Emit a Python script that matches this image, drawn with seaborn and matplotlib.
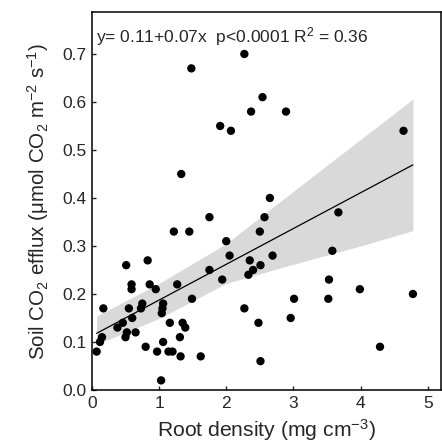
import matplotlib
matplotlib.use("Agg")
import matplotlib.pyplot as plt
import seaborn as sns
import pandas as pd

# root density (mg cm-3) vs soil CO2 efflux
root_density = [0.07, 0.12, 0.15, 0.17, 0.38, 0.46, 0.50, 0.51, 0.52, 0.55,
                0.59, 0.59, 0.60, 0.65, 0.73, 0.75, 0.80, 0.83, 0.86, 0.95,
                0.97, 1.03, 1.04, 1.05, 1.06, 1.06, 1.14, 1.16, 1.20, 1.22,
                1.27, 1.31, 1.32, 1.33, 1.35, 1.39, 1.45, 1.48, 1.49, 1.62,
                1.75, 1.75, 1.91, 1.94, 2.00, 2.05, 2.07, 2.27, 2.27, 2.33,
                2.35, 2.37, 2.40, 2.48, 2.50, 2.51, 2.51, 2.54, 2.57, 2.65,
                2.69, 2.89, 2.96, 3.01, 3.52, 3.53, 3.58, 3.67, 3.99, 4.29,
                4.64, 4.78]
co2_efflux = [0.08, 0.10, 0.11, 0.17, 0.13, 0.14, 0.11, 0.26, 0.12, 0.17,
              0.22, 0.21, 0.15, 0.12, 0.17, 0.18, 0.09, 0.27, 0.22, 0.21,
              0.08, 0.02, 0.16, 0.17, 0.18, 0.10, 0.08, 0.14, 0.08, 0.33,
              0.22, 0.11, 0.07, 0.45, 0.14, 0.13, 0.33, 0.67, 0.19, 0.07,
              0.36, 0.25, 0.55, 0.23, 0.31, 0.28, 0.54, 0.70, 0.17, 0.24,
              0.27, 0.58, 0.25, 0.14, 0.33, 0.26, 0.06, 0.61, 0.36, 0.40,
              0.28, 0.58, 0.15, 0.19, 0.19, 0.23, 0.29, 0.37, 0.21, 0.09,
              0.54, 0.20]

# fitted line and 95% band as drawn in the figure
fit_x = [0.07, 4.78]
fit_y = [0.118, 0.469]
band_x = [0.07, 1.0, 2.0, 3.0, 4.0, 4.78]
band_lower = [0.095, 0.149, 0.222, 0.262, 0.300, 0.332]
band_upper = [0.154, 0.222, 0.305, 0.414, 0.522, 0.606]

x_ticks = [0, 1, 2, 3, 4, 5]
y_ticks = [0.0, 0.1, 0.2, 0.3, 0.4, 0.5, 0.6, 0.7]
fit_text = "y= 0.11+0.07x  p<0.0001 R$^2$ = 0.36"

df = pd.DataFrame({"root": root_density, "efflux": co2_efflux})
df_fit = pd.DataFrame({"root": fit_x, "efflux": fit_y})

sns.set_style("ticks")
plt.rcParams["font.family"] = ["Liberation Sans", "DejaVu Sans"]
plt.rcParams["mathtext.fontset"] = "custom"
plt.rcParams["mathtext.rm"] = "Liberation Sans"
plt.rcParams["mathtext.it"] = "Liberation Sans"
plt.rcParams["mathtext.default"] = "regular"

fig = plt.figure(figsize=(4.42, 4.46), dpi=100)
ax = fig.add_axes([0.208, 0.1256, 0.79, 0.847])

# confidence band
ax.fill_between(band_x, band_lower, band_upper, color="#d9d9d9",
                linewidth=0, zorder=1)
# regression line
sns.lineplot(x="root", y="efflux", data=df_fit, ax=ax, color="black",
             linewidth=0.9, zorder=2)
# points
sns.scatterplot(x="root", y="efflux", data=df, ax=ax, color="black",
                s=36, edgecolor="none", zorder=3)

ax.set_xlim(0, 5.2)
ax.set_ylim(0, 0.787)
ax.set_xticks(x_ticks)
ax.set_xticklabels([str(t) for t in x_ticks])
ax.set_yticks(y_ticks)
ax.set_yticklabels([f"{t:.1f}" for t in y_ticks])
ax.tick_params(direction="in", length=3, width=1, labelsize=12.5, pad=4)

for side in ["top", "right", "left", "bottom"]:
    ax.spines[side].set_visible(True)
    ax.spines[side].set_color("black")
    ax.spines[side].set_linewidth(1.1)

ax.set_xlabel("Root density (mg cm$^{-3}$)", fontsize=15.2, labelpad=5)
ax.set_ylabel("Soil CO$_2$ efflux (μmol CO$_2$ m$^{-2}$ s$^{-1}$)",
              fontsize=14.8, labelpad=8)

ax.text(0.012, 0.965, fit_text, transform=ax.transAxes, fontsize=12.5,
        ha="left", va="top")

fig.savefig("out.png", dpi=100)
